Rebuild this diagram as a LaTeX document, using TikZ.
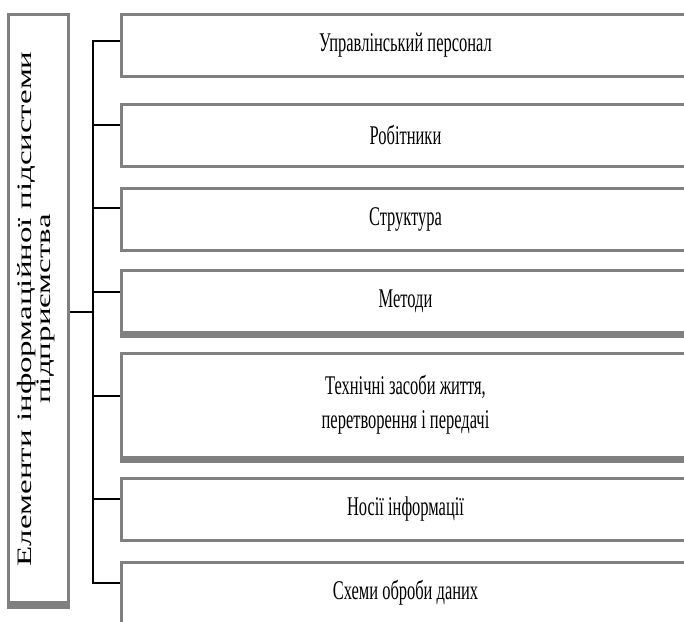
\documentclass[tikz,border=0pt]{standalone}
\usepackage{fontspec}
\setmainfont{Liberation Serif}
\newfontfamily\boxfont[FakeStretch=0.61]{Liberation Serif}
\newfontfamily\sidefont[FakeStretch=1.61]{Liberation Serif}
\usetikzlibrary{positioning}

\begin{document}
\begin{tikzpicture}[x=1pt, y=-1pt, thick]

    % Define styles
    \tikzstyle{elembox} = [draw=black!50, line width=3pt, minimum width=568pt, inner sep=0pt, anchor=west, align=center, font=\boxfont\fontsize{27}{34}\selectfont]
    \tikzstyle{mainbox} = [draw=black!50, line width=3pt, minimum width=60pt, minimum height=588pt, inner sep=0pt]
    \tikzstyle{sidetext} = [rotate=90, align=center, inner sep=0pt, font=\sidefont\fontsize{20.5}{19}\selectfont]
    \tikzstyle{heavybottom} = [black!50, line width=6pt]
    \tikzstyle{link} = [line width=1.5pt, black]

    \useasboundingbox (0,0) rectangle (684,621);
    \clip (0,0) rectangle (684,621);

    % Main block
    \node[mainbox] (lb) at (38.5,308) {};
    \node[sidetext] (lbtext) at (36,309) {Елементи інформаційної підсистеми\\підприємства};
    \draw[heavybottom] ([yshift=-2pt]lb.south west) -- ([yshift=-2pt]lb.south east);

    % Element boxes
    \node[elembox, minimum height=62pt] (b1) at (120,45) {Управлінський персонал};
    \node[elembox, minimum height=62pt] (b2) at (120,135) {Робітники};
    \node[elembox, minimum height=62pt] (b3) at (120,219) {Структура};
    \node[elembox, minimum height=62pt] (b4) at (120,301) {Методи};
    \node[elembox, minimum height=104pt] (b5) at (120,405) {Технічні засоби життя,\\перетворення і передачі};
    \node[elembox, minimum height=62pt] (b6) at (120,509) {Носії інформації};
    \node[elembox, minimum height=62pt] (b7) at (120,593) {Схеми оброби даних};

    % Thicker lower edges
    \draw[heavybottom] ([yshift=-1.5pt]b4.south west) -- ([yshift=-1.5pt]b4.south east);
    \draw[heavybottom] ([yshift=-1.5pt]b5.south west) -- ([yshift=-1.5pt]b5.south east);

    % Connectors
    \coordinate (jn) at (93,312);
    \draw[link] ([yshift=-4pt]lb.east) -- (jn);
    \draw[link] (jn) |- ([yshift=4pt]b1.west);
    \draw[link] (jn) |- ([yshift=10pt]b2.west);
    \draw[link] (jn) |- ([yshift=11pt]b3.west);
    \draw[link] (jn) |- ([yshift=9pt]b4.west);
    \draw[link] (jn) |- ([yshift=9pt]b5.west);
    \draw[link] (jn) |- ([yshift=10pt]b6.west);
    \draw[link] (jn) |- ([yshift=10pt]b7.west);

\end{tikzpicture}
\end{document}
